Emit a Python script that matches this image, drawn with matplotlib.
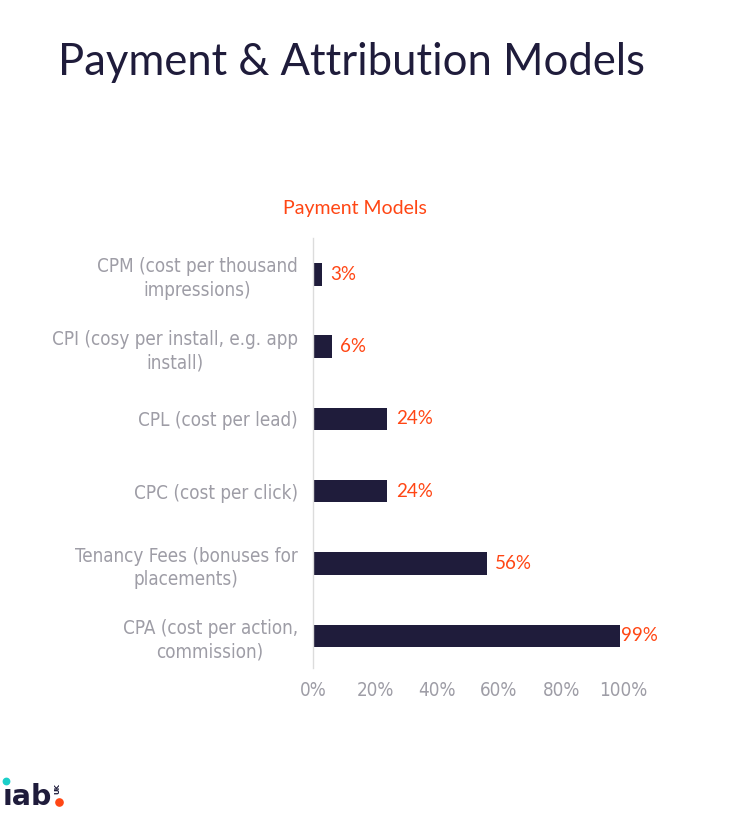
import matplotlib
matplotlib.use('Agg')
import matplotlib.pyplot as plt
from matplotlib.lines import Line2D
from matplotlib.ticker import PercentFormatter

# data (top to bottom as shown)
categories = ['CPM (cost per thousand\nimpressions)',
              'CPI (cosy per install, e.g. app\ninstall)',
              'CPL (cost per lead)',
              'CPC (cost per click)',
              'Tenancy Fees (bonuses for\nplacements)',
              'CPA (cost per action,\ncommission)']
values = [0.03, 0.06, 0.24, 0.24, 0.56, 0.99]
value_labels = ['3%', '6%', '24%', '24%', '56%', '99%']
xticks = [0, 0.2, 0.4, 0.6, 0.8, 1.0]

navy = '#1f1c3b'
orange = '#ff4614'
grey = '#9e9da6'
cond = ['DejaVu Sans']

fig = plt.figure(figsize=(7.4, 8.16), dpi=100)
ax = fig.add_axes([0.423, 0.181, 0.419, 0.527])

ypos = list(range(len(categories)))
bars = ax.barh(ypos, values, height=0.31, color=navy)
ax.set_ylim(len(categories) - 0.55, -0.5)
ax.set_xlim(0, 1)

for b, v, lab in zip(bars, values, value_labels):
    off = 1 if v > 0.9 else 6  # last label sits right on the bar end
    ax.annotate(lab, (v, b.get_y() + b.get_height() / 2), xytext=(off, 0),
                textcoords='offset points', va='center', ha='left',
                color=orange, fontsize=13.5, family=['Lato', 'DejaVu Sans'])

ax.set_yticks(ypos)
ax.set_yticklabels(categories, family=cond, stretch='condensed', fontsize=13.5,
                   color=grey, linespacing=1.3)
for t in ax.get_yticklabels():
    t.set_multialignment('center')
ax.set_xticks(xticks)
ax.xaxis.set_major_formatter(PercentFormatter(1.0, decimals=0))
for t in ax.get_xticklabels():
    t.set_family(cond)
    t.set_stretch('condensed')
    t.set_fontsize(13.5)
    t.set_color(grey)
ax.tick_params(length=0)
ax.tick_params(axis='y', pad=11)
ax.tick_params(axis='x', pad=9)

for s in ['top', 'right', 'bottom']:
    ax.spines[s].set_visible(False)
ax.spines['left'].set_color('#dcdcdc')
ax.spines['left'].set_linewidth(1)

fig.text(0.078, 0.924, 'Payment & Attribution Models', fontsize=31.4,
         color=navy, family=['Lato', 'DejaVu Sans'], va='center', ha='left')
fig.text(0.48, 0.744, 'Payment Models', fontsize=14, color=orange,
         family=['Lato', 'DejaVu Sans'], va='center', ha='center')

# iab logo
fig.text(0.004, 1 - 805 / 816, '\u0131ab', fontsize=20.5, fontweight='bold',
         color=navy, family=['DejaVu Sans'], va='baseline', ha='left')
fig.add_artist(Line2D([6 / 740], [1 - 781 / 816], marker='o', markersize=4.6,
                      color='#1ccfc9', transform=fig.transFigure))
fig.add_artist(Line2D([59 / 740], [1 - 801.5 / 816], marker='o', markersize=5.2,
                      color=orange, transform=fig.transFigure))
fig.text(57.5 / 740, 1 - 789 / 816, 'UK', fontsize=5, fontweight='bold',
         color=navy, rotation=90, va='center', ha='center')

fig.savefig('out.png', dpi=100)
